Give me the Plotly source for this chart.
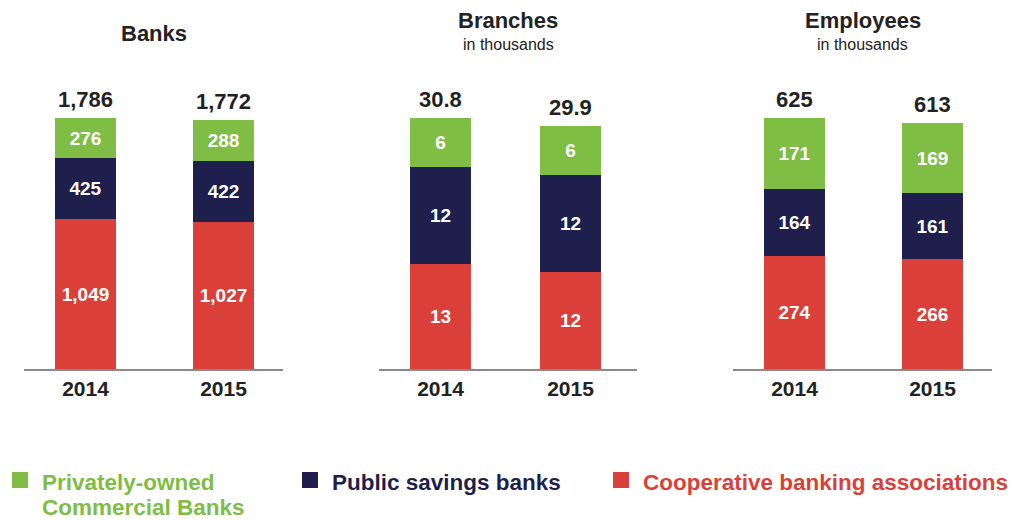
import plotly.graph_objects as go

# ---- data ----
years = ["2014", "2015"]

banks_private = [276, 288]
banks_public = [425, 422]
banks_coop = [1049, 1027]
banks_total = ["1,786", "1,772"]

branches_private = [6, 6]
branches_public = [12, 12]
branches_coop = [13, 12]
branches_total = ["30.8", "29.9"]

employees_private = [171, 169]
employees_public = [164, 161]
employees_coop = [274, 266]
employees_total = ["625", "613"]

series_names = [["Privately-owned", "Commercial Banks"], ["Public savings banks"],
                ["Cooperative banking associations"]]

# ---- styling ----
GREEN = "#7fbd45"
NAVY = "#1e1f4c"
RED = "#db3f3a"
DARK = "#222222"
FONT = "Liberation Sans, Arial, sans-serif"

W, H = 1013, 520

panels = [
    dict(title="Banks", sub=None, private=banks_private, public=banks_public,
         coop=banks_coop, total=banks_total, px=(24, 283), spacing=138, ymax=2155),
    dict(title="Branches", sub="in thousands", private=branches_private, public=branches_public,
         coop=branches_coop, total=branches_total, px=(379, 637), spacing=130, ymax=38.2),
    dict(title="Employees", sub="in thousands", private=employees_private, public=employees_public,
         coop=employees_coop, total=employees_total, px=(733, 992), spacing=138, ymax=750),
]

Y_BOTTOM_PX, Y_TOP_PX = 369, 60
ydom = [1 - Y_BOTTOM_PX / H, 1 - Y_TOP_PX / H]

fig = go.Figure()
annotations = []
layout_axes = {}


def fmt(v):
    return f"{v:,}"


def paper_text(xpx, ypx, text, size, color, bold=True, xanchor="center"):
    return dict(x=xpx / W, y=1 - ypx / H, xref="paper", yref="paper", text=text,
                showarrow=False, xanchor=xanchor, yanchor="middle",
                font=dict(family=FONT, size=size, color=color,
                          weight="bold" if bold else "normal"))


for i, p in enumerate(panels):
    n = "" if i == 0 else str(i + 1)
    xref, yref = "x" + n, "y" + n
    x = [0, 1]
    width_units = (p["px"][1] - p["px"][0]) / p["spacing"]
    left = -61.5 / p["spacing"]
    bar_w = 61 / p["spacing"]

    for vals, color in ((p["coop"], RED), (p["public"], NAVY), (p["private"], GREEN)):
        fig.add_trace(go.Bar(
            x=x, y=vals, xaxis=xref, yaxis=yref, width=bar_w,
            marker=dict(color=color, line=dict(width=0)),
            text=[fmt(v) for v in vals], textposition="inside",
            insidetextanchor="middle", textangle=0, constraintext="none",
            textfont=dict(family=FONT, size=19, color="white", weight="bold"),
            showlegend=False, hoverinfo="skip",
        ))

    # totals above each stack
    for j in range(2):
        top = p["coop"][j] + p["public"][j] + p["private"][j]
        annotations.append(dict(
            x=j, y=top, xref=xref, yref=yref, text=p["total"][j],
            showarrow=False, xanchor="center", yanchor="bottom", yshift=4,
            font=dict(family=FONT, size=22, color=DARK, weight="bold"),
        ))

    xc = (p["px"][0] + p["px"][1]) / 2
    if p["sub"] is None:
        annotations.append(paper_text(xc, 33, p["title"], 22, DARK))
    else:
        annotations.append(paper_text(xc, 21, p["title"], 22, DARK))
        annotations.append(paper_text(xc, 44, p["sub"], 16, DARK, bold=False))

    layout_axes["xaxis" + n] = dict(
        domain=[p["px"][0] / W, p["px"][1] / W],
        range=[left, left + width_units],
        tickvals=x, ticktext=years, showline=True, linecolor="#8a8a8a", linewidth=1.5,
        showgrid=False, zeroline=False, ticks="", fixedrange=True,
        tickfont=dict(family=FONT, size=21, color=DARK, weight="bold"),
        anchor=yref,
    )
    layout_axes["yaxis" + n] = dict(
        domain=ydom, range=[0, p["ymax"]], visible=False, fixedrange=True, anchor=xref,
    )

# ---- legend drawn as squares + coloured labels ----
legend_items = [
    (series_names[0], GREEN, 12, 40),
    (series_names[1], NAVY, 302, 330),
    (series_names[2], RED, 613, 641),
]
shapes = []
for lines, color, sq_x, tx in legend_items:
    shapes.append(dict(type="rect", xref="paper", yref="paper",
                       x0=sq_x / W, x1=(sq_x + 16) / W,
                       y0=1 - 488 / H, y1=1 - 472 / H,
                       fillcolor=color, line=dict(width=0)))
    for k, line in enumerate(lines):
        annotations.append(paper_text(tx, 482 + 25 * k, line, 22.5, color, xanchor="left"))

fig.update_layout(
    width=W, height=H,
    margin=dict(l=0, r=0, t=0, b=0),
    paper_bgcolor="white", plot_bgcolor="white",
    barmode="stack", bargap=0,
    annotations=annotations, shapes=shapes,
    showlegend=False,
    **layout_axes,
)

fig.write_html("out.html")
